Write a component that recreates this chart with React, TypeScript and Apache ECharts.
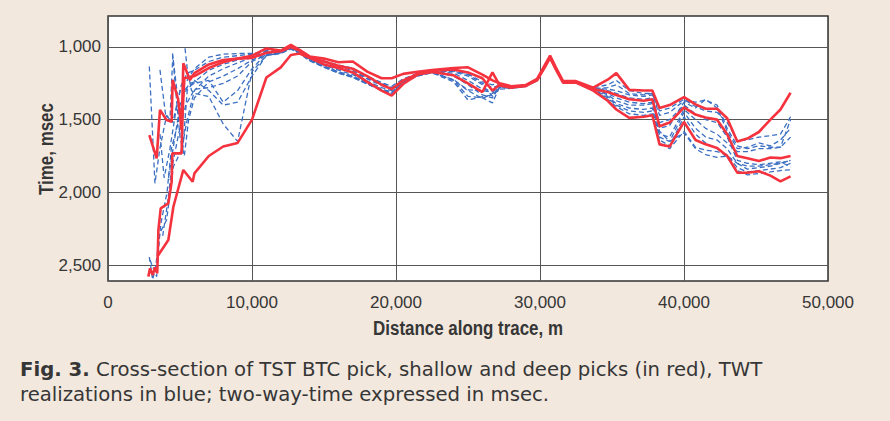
import React, { useEffect, useRef } from "react";
import * as echarts from "echarts";

// Shared distance grid (m) for the main part of every trace
const distanceGrid = [6000, 7000, 8000, 9000, 10000, 11000, 12000, 12700, 13300, 14000, 15000, 16000, 17000, 18000, 19000, 19700, 20500, 21500, 22500, 24000, 25000, 26000, 26700, 27200, 28000, 29000, 29800, 30300, 30700, 31100, 31600, 32500, 33700, 34700, 35300, 36200, 37200, 37800, 38300, 39000, 40000, 40800, 41500, 42300, 43000, 43700, 44400, 45200, 46000, 46700, 47400];

const xTicks = [0, 10000, 20000, 30000, 40000, 50000];
const yTicks = [1000, 1500, 2000, 2500];

// Red picks: irregular start [distance, time] + times on distanceGrid
const redShallowStart: [number, number][] = [[2870, 1606], [3380, 1766], [3610, 1433], [4070, 1502], [4420, 1514], [4490, 1227], [4880, 1365], [5110, 1571], [5230, 1112], [5690, 1227]];
const redShallow = [1180, 1120, 1090, 1080, 1060, 1010, 1025, 985, 1020, 1065, 1080, 1105, 1100, 1170, 1215, 1215, 1185, 1170, 1158, 1145, 1140, 1190, 1230, 1250, 1270, 1262, 1220, 1130, 1060, 1140, 1235, 1235, 1280, 1225, 1180, 1295, 1300, 1300, 1420, 1400, 1345, 1395, 1425, 1425, 1490, 1650, 1630, 1585, 1500, 1430, 1315];

const redPickStart: [number, number][] = [[2800, 2580], [2920, 2523], [3100, 2569], [3260, 2516], [3420, 2557], [3500, 2259], [3660, 2110], [4190, 2076], [4420, 1927], [4470, 1732], [5110, 1732], [5180, 1456], [5300, 1216], [5800, 1204]];
const redPick = [1200, 1145, 1105, 1080, 1075, 1040, 1030, 1000, 1025, 1070, 1100, 1130, 1150, 1200, 1260, 1290, 1230, 1185, 1165, 1155, 1175, 1215, 1300, 1260, 1275, 1270, 1225, 1140, 1070, 1150, 1240, 1240, 1290, 1310, 1330, 1360, 1370, 1360, 1545, 1520, 1415, 1465, 1485, 1500, 1600, 1750, 1765, 1785, 1760, 1765, 1750];

const redDeepStart: [number, number][] = [[3420, 2443], [4190, 2328], [4540, 2099], [5230, 1846], [5880, 1927]];
const redDeep = [1870, 1750, 1685, 1660, 1500, 1210, 1140, 1055, 1045, 1075, 1120, 1145, 1175, 1240, 1300, 1335, 1255, 1190, 1172, 1195, 1250, 1310, 1175, 1265, 1280, 1265, 1230, 1145, 1075, 1155, 1245, 1245, 1300, 1370, 1430, 1488, 1480, 1470, 1670, 1685, 1515, 1640, 1670, 1695, 1750, 1865, 1865, 1855, 1885, 1925, 1890];

// Blue TWT realizations
const blue1Start: [number, number][] = [[2870, 1135], [3260, 1938], [3600, 1700], [4070, 1470], [4500, 1520], [5000, 1300], [5500, 1230]];
const blue1 = [1150, 1070, 1050, 1045, 1045, 1030, 1030, 1010, 1030, 1075, 1100, 1130, 1150, 1200, 1245, 1270, 1220, 1180, 1165, 1160, 1185, 1240, 1260, 1250, 1275, 1265, 1225, 1140, 1068, 1145, 1238, 1240, 1280, 1260, 1230, 1300, 1320, 1320, 1440, 1420, 1360, 1410, 1440, 1450, 1520, 1640, 1640, 1620, 1610, 1600, 1480];

const blue2Start: [number, number][] = [[3610, 1158], [4000, 1468], [4300, 1500], [4500, 1060], [4900, 1400], [5200, 1700], [5500, 1300]];
const blue2 = [1230, 1300, 1400, 1380, 1200, 1060, 1040, 1000, 1030, 1080, 1120, 1150, 1170, 1220, 1265, 1290, 1240, 1190, 1170, 1180, 1230, 1290, 1300, 1260, 1275, 1262, 1222, 1138, 1066, 1143, 1237, 1240, 1285, 1290, 1300, 1330, 1340, 1330, 1560, 1540, 1380, 1420, 1360, 1420, 1580, 1700, 1690, 1660, 1680, 1640, 1560];

const blue3Start: [number, number][] = [[2920, 2466], [3380, 2580], [3600, 2280], [4070, 2190], [4310, 2007], [4540, 1824], [5110, 1709], [5500, 1500]];
const blue3 = [1300, 1200, 1150, 1110, 1070, 1040, 1035, 1005, 1035, 1085, 1125, 1160, 1190, 1235, 1280, 1300, 1235, 1195, 1172, 1200, 1260, 1330, 1350, 1270, 1280, 1268, 1228, 1142, 1070, 1148, 1240, 1242, 1290, 1330, 1370, 1400, 1400, 1390, 1600, 1620, 1430, 1500, 1560, 1600, 1660, 1720, 1720, 1700, 1700, 1690, 1620];

const blue4Start: [number, number][] = [[4480, 1044], [4700, 1300], [5000, 1620], [5300, 1750], [5600, 1500]];
const blue4 = [1350, 1240, 1200, 1150, 1090, 1050, 1040, 1010, 1040, 1090, 1130, 1170, 1200, 1245, 1290, 1310, 1240, 1198, 1175, 1230, 1340, 1350, 1385, 1275, 1282, 1270, 1230, 1145, 1072, 1150, 1242, 1245, 1295, 1340, 1390, 1420, 1430, 1420, 1620, 1650, 1450, 1560, 1620, 1640, 1700, 1800, 1840, 1830, 1820, 1800, 1780];

const blue5Start: [number, number][] = [[5350, 1009], [5500, 1150], [5800, 1300]];
const blue5 = [1320, 1340, 1530, 1650, 1170, 1060, 1045, 1015, 1045, 1095, 1140, 1180, 1210, 1255, 1300, 1320, 1245, 1200, 1178, 1240, 1365, 1342, 1330, 1290, 1285, 1272, 1232, 1148, 1074, 1152, 1244, 1248, 1300, 1350, 1400, 1440, 1450, 1440, 1660, 1700, 1580, 1690, 1710, 1720, 1740, 1830, 1860, 1850, 1840, 1830, 1800];

const blue6Start: [number, number][] = [[2870, 2445], [3100, 2600], [3300, 2520], [3700, 2200], [4100, 2000], [4400, 1700], [4800, 1550], [5300, 1300], [5700, 1250]];
const blue6 = [1240, 1160, 1120, 1090, 1060, 1035, 1028, 995, 1028, 1072, 1105, 1140, 1160, 1215, 1255, 1285, 1235, 1188, 1168, 1170, 1200, 1260, 1340, 1265, 1278, 1266, 1226, 1141, 1069, 1146, 1239, 1242, 1285, 1280, 1260, 1320, 1330, 1320, 1470, 1450, 1370, 1380, 1365, 1400, 1560, 1680, 1700, 1680, 1690, 1690, 1500];

const blue7Start: [number, number][] = [[3610, 1600], [3900, 1900], [4300, 1700], [4700, 1450], [5100, 1260], [5500, 1180]];
const blue7 = [1160, 1100, 1070, 1060, 1050, 1025, 1030, 1000, 1028, 1070, 1095, 1125, 1145, 1210, 1250, 1280, 1232, 1186, 1166, 1165, 1190, 1250, 1280, 1262, 1277, 1264, 1224, 1139, 1067, 1144, 1238, 1240, 1282, 1300, 1320, 1350, 1360, 1350, 1520, 1500, 1400, 1460, 1500, 1520, 1620, 1780, 1800, 1810, 1800, 1790, 1825];

const blue8Start: [number, number][] = [[4200, 1900], [4600, 1650], [5000, 1400], [5500, 1280]];
const blue8 = [1250, 1230, 1380, 1300, 1150, 1045, 1038, 1008, 1038, 1088, 1135, 1175, 1205, 1250, 1295, 1315, 1242, 1196, 1174, 1228, 1300, 1355, 1320, 1280, 1283, 1271, 1231, 1146, 1073, 1151, 1243, 1246, 1298, 1360, 1410, 1460, 1470, 1460, 1640, 1680, 1480, 1600, 1660, 1700, 1760, 1850, 1880, 1870, 1860, 1850, 1845];

const blue9Start: [number, number][] = [[3800, 2300], [4100, 2100], [4400, 1850], [4900, 1600], [5400, 1400], [5800, 1330]];
const blue9 = [1290, 1280, 1250, 1200, 1100, 1055, 1042, 1012, 1042, 1092, 1138, 1178, 1208, 1252, 1298, 1318, 1243, 1197, 1176, 1225, 1295, 1300, 1310, 1272, 1281, 1269, 1229, 1144, 1071, 1149, 1241, 1244, 1292, 1320, 1350, 1380, 1390, 1380, 1580, 1650, 1590, 1700, 1740, 1760, 1750, 1800, 1820, 1820, 1810, 1800, 1780];

const blueTraces: [[number, number][], number[]][] = [
  [blue1Start, blue1], [blue2Start, blue2], [blue3Start, blue3], [blue4Start, blue4], [blue5Start, blue5],
  [blue6Start, blue6], [blue7Start, blue7], [blue8Start, blue8], [blue9Start, blue9],
];
const redTraces: [[number, number][], number[]][] = [
  [redShallowStart, redShallow], [redPickStart, redPick], [redDeepStart, redDeep],
];

const yTitle = "Time, msec";
const xTitle = "Distance along trace, m";
const captionBold = "Fig. 3.";
const captionLine1 = " Cross-section of TST BTC pick, shallow and deep picks (in red), TWT";
const captionLine2 = "realizations in blue; two-way-time expressed in msec.";

const BLUE = "#3b6fc2";
const RED = "#f5333f";
const TEXT = "#363636";
const AXIS_FONT = "'Liberation Sans', Arial, sans-serif";
const CAP_FONT = "'DejaVu Sans', Verdana, sans-serif";

function build(start: [number, number][], main: number[]) {
  return [...start, ...distanceGrid.map((x, i) => [x, main[i]])];
}

function measure(text: string, font: string) {
  const c = document.createElement("canvas").getContext("2d");
  if (!c) return text.length * 10;
  c.font = font;
  return c.measureText(text).width;
}

export default function App() {
  const ref = useRef<HTMLDivElement>(null);
  useEffect(() => {
    if (!ref.current) return;
    const chart = echarts.init(ref.current, null, { renderer: "svg" });
    const series: any[] = [];
    blueTraces.forEach(([s, m], i) => {
      series.push({
        type: "line", name: "blue" + i, data: build(s, m), symbol: "none", z: 2,
        lineStyle: { color: BLUE, width: 1.3, type: [5, 3] },
      });
    });
    redTraces.forEach(([s, m], i) => {
      series.push({
        type: "line", name: "red" + i, data: build(s, m), symbol: "none", z: 3,
        lineStyle: { color: RED, width: 2.6 },
      });
    });

    const titleFont = `bold 20px ${AXIS_FONT}`;
    const yTitleScale = 92 / measure(yTitle, titleFont);
    const xTitleScale = 190 / measure(xTitle, titleFont);
    const capW1 = measure(captionBold, `bold 19px ${CAP_FONT}`) + measure(captionLine1, `19px ${CAP_FONT}`);
    const capScale = 743 / capW1;

    chart.setOption({
      animation: false,
      backgroundColor: "#f2e8de",
      grid: { left: 108, top: 16, width: 720, height: 265, show: true, backgroundColor: "#ffffff", borderColor: "#333", borderWidth: 1.5 },
      xAxis: {
        type: "value", min: 0, max: 50000, interval: 10000,
        axisLine: { show: false }, axisTick: { show: false },
        splitLine: { show: true, lineStyle: { color: "#555", width: 1 } },
        axisLabel: {
          margin: 13, color: TEXT, fontSize: 17, fontFamily: AXIS_FONT,
          formatter: (v: number) => (xTicks.includes(v) ? v.toLocaleString("en-US") : ""),
        },
      },
      yAxis: {
        type: "value", inverse: true, min: 787, max: 2610,
        axisLine: { show: false },
        axisTick: { show: false, customValues: yTicks },
        splitLine: { show: true, lineStyle: { color: "#555", width: 1 } },
        axisLabel: {
          customValues: yTicks, margin: 7, color: TEXT, fontSize: 17, fontFamily: AXIS_FONT,
          formatter: (v: number) => v.toLocaleString("en-US"),
        },
      },
      graphic: [
        {
          type: "text", x: 46, y: 149, rotation: Math.PI / 2, scaleX: yTitleScale,
          style: { text: yTitle, fontSize: 20, fontWeight: "bold", fontFamily: AXIS_FONT, fill: TEXT, align: "center", verticalAlign: "middle" },
        },
        {
          type: "text", x: 468, y: 328, scaleX: xTitleScale,
          style: { text: xTitle, fontSize: 20, fontWeight: "bold", fontFamily: AXIS_FONT, fill: TEXT, align: "center", verticalAlign: "middle" },
        },
        {
          type: "text", x: 20, y: 370, scaleX: capScale,
          style: {
            text: `{b|${captionBold}}${captionLine1}`,
            fontSize: 19, fontFamily: CAP_FONT, fill: TEXT, align: "left", verticalAlign: "middle",
            rich: { b: { fontWeight: "bold", fontSize: 19, fontFamily: CAP_FONT, fill: TEXT } },
          },
        },
        {
          type: "text", x: 20, y: 395, scaleX: capScale,
          style: { text: captionLine2, fontSize: 19, fontFamily: CAP_FONT, fill: TEXT, align: "left", verticalAlign: "middle" },
        },
      ],
      series,
    });
    return () => chart.dispose();
  }, []);
  return <div ref={ref} style={{ position: "fixed", left: 0, top: 0, width: 890, height: 421 }} />;
}
